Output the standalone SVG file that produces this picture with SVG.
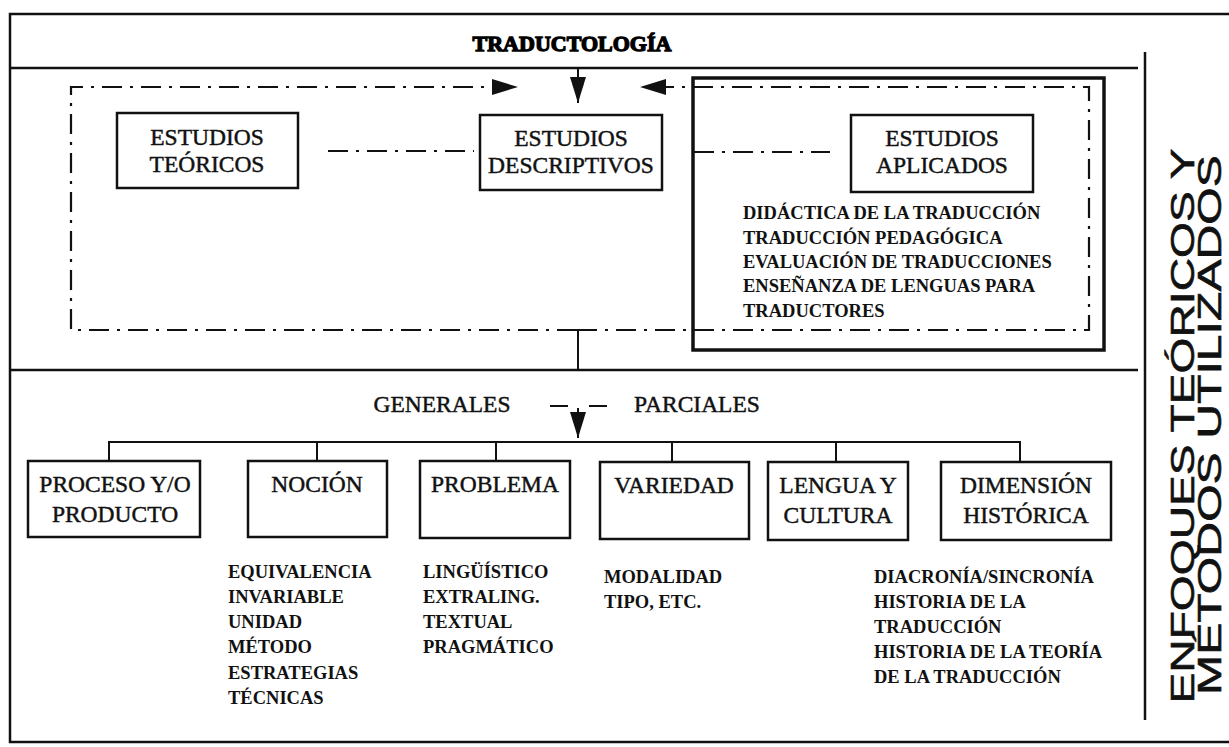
<svg xmlns="http://www.w3.org/2000/svg" width="1229" height="747" viewBox="0 0 1229 747">
<style>
  .frame{fill:none;stroke:#111;stroke-width:2.5}
  .box{fill:#fff;stroke:#111;stroke-width:2.5}
  .thick{fill:none;stroke:#111;stroke-width:3.5}
  .dd{fill:none;stroke:#111;stroke-width:2.2;stroke-dasharray:20 8 3 8}
  .solid{fill:none;stroke:#111;stroke-width:2}
  .lbl{font-family:"Liberation Serif",serif;font-size:23.5px;fill:#111;stroke:#111;stroke-width:0.45;text-anchor:middle}
  .lst{font-family:"Liberation Serif",serif;font-size:18.5px;font-weight:bold;fill:#111}
  .title{font-family:"Liberation Serif",serif;font-size:22px;font-weight:bold;fill:#000;stroke:#000;stroke-width:1.3;text-anchor:middle}
  .side{font-family:"Liberation Sans",Arial,sans-serif;font-size:34px;fill:#111;stroke:#111;stroke-width:0.6;text-anchor:middle}
</style>
<defs>
  <marker id="ah" markerUnits="userSpaceOnUse" markerWidth="28" markerHeight="18" refX="26" refY="9" orient="auto">
    <path d="M0,1 L26,9 L0,17 Z" fill="#111"/>
  </marker>
</defs>
<rect width="1229" height="747" fill="#fff"/>

<g id="frame">
  <path class="frame" d="M1229,14 H10 V742 H1229"/>
  <path class="frame" d="M10,68 H1138"/>
  <path class="frame" d="M10,370 H1138"/>
  <path class="frame" d="M1145,52 V720"/>
</g>

<g id="title">
  <text class="title" x="572" y="51">TRADUCTOLOGÍA</text>
</g>

<g id="side-label">
  <text class="side" transform="translate(1194,426) rotate(-90)" textLength="555" lengthAdjust="spacingAndGlyphs">ENFOQUES TEÓRICOS Y</text>
  <text class="side" transform="translate(1221,425) rotate(-90)" textLength="540" lengthAdjust="spacingAndGlyphs">MÉTODOS UTILIZADOS</text>
</g>

<g id="aplicados-frame">
  <rect class="thick" x="693" y="78" width="411" height="272"/>
</g>

<g id="connectors">
  <path class="dd" d="M577,330 H71 V87 H518" marker-end="url(#ah)"/>
  <path class="dd" d="M577,330 H1089 V87 H640" marker-end="url(#ah)"/>
  <path class="solid" d="M578,68 V103" marker-end="url(#ah)"/>
  <path class="dd" d="M328,151 H474"/>
  <path class="dd" d="M694,152 H830"/>
  <path class="solid" d="M578,330 V370"/>
  <path class="solid" d="M550,406 H568 M589,406 H607"/>
  <path class="solid" d="M578,408 V438" marker-end="url(#ah)"/>
  <path class="solid" d="M109,461 V442 H1020 V461 M317,442 V461 M496,442 V461 M672,442 V461 M836,442 V461"/>
</g>

<g id="teoricos">
  <rect class="box" x="117" y="113" width="181" height="75"/>
  <text class="lbl" x="207" y="145">ESTUDIOS</text>
  <text class="lbl" x="207" y="172">TEÓRICOS</text>
</g>
<g id="descriptivos">
  <rect class="box" x="480" y="115" width="182" height="75"/>
  <text class="lbl" x="571" y="146">ESTUDIOS</text>
  <text class="lbl" x="571" y="173">DESCRIPTIVOS</text>
</g>
<g id="aplicados">
  <rect class="box" x="851" y="115" width="182" height="77"/>
  <text class="lbl" x="942" y="146">ESTUDIOS</text>
  <text class="lbl" x="942" y="173">APLICADOS</text>
</g>
<g id="aplicados-list">
  <text class="lst" x="743" y="219">DIDÁCTICA DE LA TRADUCCIÓN</text>
  <text class="lst" x="743" y="244">TRADUCCIÓN PEDAGÓGICA</text>
  <text class="lst" x="743" y="268">EVALUACIÓN DE TRADUCCIONES</text>
  <text class="lst" x="743" y="292">ENSEÑANZA DE LENGUAS PARA</text>
  <text class="lst" x="743" y="317">TRADUCTORES</text>
</g>

<g id="generales-parciales">
  <text class="lbl" x="442" y="412">GENERALES</text>
  <text class="lbl" x="697" y="412">PARCIALES</text>
</g>

<g id="proceso">
  <rect class="box" x="28" y="461" width="172" height="76"/>
  <text class="lbl" x="115" y="492">PROCESO Y/O</text>
  <text class="lbl" x="115" y="522">PRODUCTO</text>
</g>
<g id="nocion">
  <rect class="box" x="248" y="461" width="139" height="76"/>
  <text class="lbl" x="317" y="492">NOCIÓN</text>
</g>
<g id="problema">
  <rect class="box" x="420" y="461" width="150" height="77"/>
  <text class="lbl" x="495" y="492">PROBLEMA</text>
</g>
<g id="variedad">
  <rect class="box" x="600" y="462" width="149" height="77"/>
  <text class="lbl" x="674" y="493">VARIEDAD</text>
</g>
<g id="lengua">
  <rect class="box" x="768" y="462" width="140" height="78"/>
  <text class="lbl" x="838" y="493">LENGUA Y</text>
  <text class="lbl" x="838" y="523">CULTURA</text>
</g>
<g id="dimension">
  <rect class="box" x="941" y="462" width="170" height="78"/>
  <text class="lbl" x="1026" y="493">DIMENSIÓN</text>
  <text class="lbl" x="1026" y="523">HISTÓRICA</text>
</g>

<g id="nocion-list">
  <text class="lst" x="228" y="578">EQUIVALENCIA</text>
  <text class="lst" x="228" y="603">INVARIABLE</text>
  <text class="lst" x="228" y="628">UNIDAD</text>
  <text class="lst" x="228" y="653">MÉTODO</text>
  <text class="lst" x="228" y="679">ESTRATEGIAS</text>
  <text class="lst" x="228" y="704">TÉCNICAS</text>
</g>
<g id="problema-list">
  <text class="lst" x="423" y="578">LINGÜÍSTICO</text>
  <text class="lst" x="423" y="603">EXTRALING.</text>
  <text class="lst" x="423" y="628">TEXTUAL</text>
  <text class="lst" x="423" y="653">PRAGMÁTICO</text>
</g>
<g id="variedad-list">
  <text class="lst" x="604" y="583">MODALIDAD</text>
  <text class="lst" x="604" y="608">TIPO, ETC.</text>
</g>
<g id="dimension-list">
  <text class="lst" x="874" y="583">DIACRONÍA/SINCRONÍA</text>
  <text class="lst" x="874" y="608">HISTORIA DE LA</text>
  <text class="lst" x="874" y="633">TRADUCCIÓN</text>
  <text class="lst" x="874" y="658">HISTORIA DE LA TEORÍA</text>
  <text class="lst" x="874" y="683">DE LA TRADUCCIÓN</text>
</g>
</svg>
